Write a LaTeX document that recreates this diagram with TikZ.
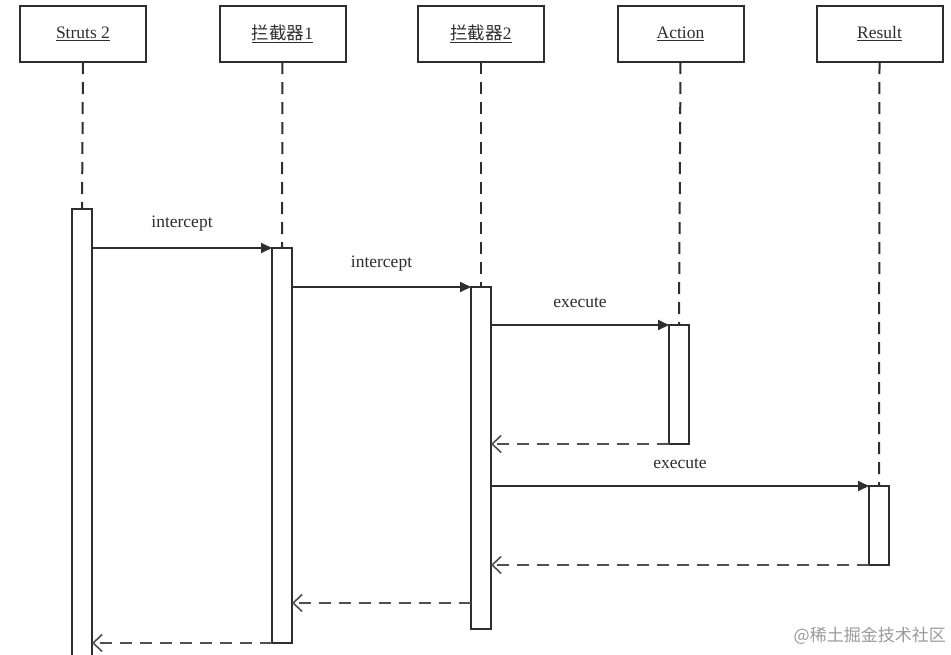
\documentclass[tikz,border=0pt]{standalone}
\usepackage{fontspec}
\setmainfont{Liberation Serif}
\newfontfamily\cjk{Noto Sans CJK SC}
\usetikzlibrary{arrows.meta}
\definecolor{ink}{HTML}{2E2E2E}
\definecolor{dash}{HTML}{505050}
\definecolor{wm}{HTML}{9A9A9A}
\begin{document}
\begin{tikzpicture}[x=1pt,y=-1pt,
  head/.style={draw=ink,line width=2pt,minimum width=126pt,minimum height=56pt,inner sep=0pt,outer sep=0pt,text=ink,font=\fontsize{17.5}{20}\selectfont},
  bar/.style={draw=ink,line width=2pt,fill=white,minimum width=20pt,inner sep=0pt,outer sep=0pt,anchor=north west},
  life/.style={draw=ink,line width=2pt,dash pattern=on 12pt off 8pt},
  msg/.style={draw=ink,line width=1.8pt,-{Triangle[length=11pt,width=10pt]}},
  ret/.style={draw=dash,line width=2pt,dash pattern=on 12pt off 8pt,-{Straight Barb[length=9pt,width=17pt,line width=1.6pt]}},
  lbl/.style={text=ink,font=\fontsize{17.5}{20}\selectfont,inner sep=0pt}]
\useasboundingbox[fill=white] (0,0) rectangle (951,654);

% header boxes
\node[head] (h1) at (83,34) {\underline{Struts 2}};
\node[head] (h2) at (282.5,34) {\underline{{\cjk 拦截器}1}};
\node[head] (h3) at (481,34) {\underline{{\cjk 拦截器}2}};
\node[head] (h4) at (680.5,34) {\underline{Action}};
\node[head] (h5) at (879.5,34) {\underline{Result}};

% activation bars
\node[bar,minimum height=470pt] (sb) at (72,209) {};
\node[bar,minimum height=395pt] (i1) at (272,248) {};
\node[bar,minimum height=342pt] (i2) at (471,287) {};
\node[bar,minimum height=119pt] (ac) at (669,325) {};
\node[bar,minimum height=79pt] (rs) at (869,486) {};

% lifelines
\draw[life] (h1.south) -- (sb.north);
\draw[life] (h2.south) -- (i1.north);
\draw[life] (h3.south) -- (i2.north);
\draw[life] (h4.south) -- (ac.north);
\draw[life] (h5.south) -- (rs.north);

% messages
\coordinate (r3s) at (471,603);
\draw[msg] (sb.east |- i1.north west) -- node[lbl,above=16pt] {intercept} (i1.north west);
\draw[msg] (i1.east |- i2.north west) -- node[lbl,above=15pt] {intercept} (i2.north west);
\draw[msg] (i2.east |- ac.north west) -- node[lbl,above=16pt] {execute} (ac.north west);
\draw[ret] (ac.south west) -- (i2.east |- ac.south west);
\draw[msg] (i2.east |- rs.north west) -- node[lbl,above=16pt] {execute} (rs.north west);
\draw[ret] (rs.south west) -- (i2.east |- rs.south west);
\draw[ret] (r3s) -- (i1.east |- r3s);
\draw[ret] (i1.south west) -- (sb.east |- i1.south west);

% watermark
\node[text=wm,font=\cjk\fontsize{17}{20}\selectfont,anchor=east,inner sep=0pt] (wmk) at (946,636) {@稀土掘金技术社区};
\end{tikzpicture}
\end{document}
